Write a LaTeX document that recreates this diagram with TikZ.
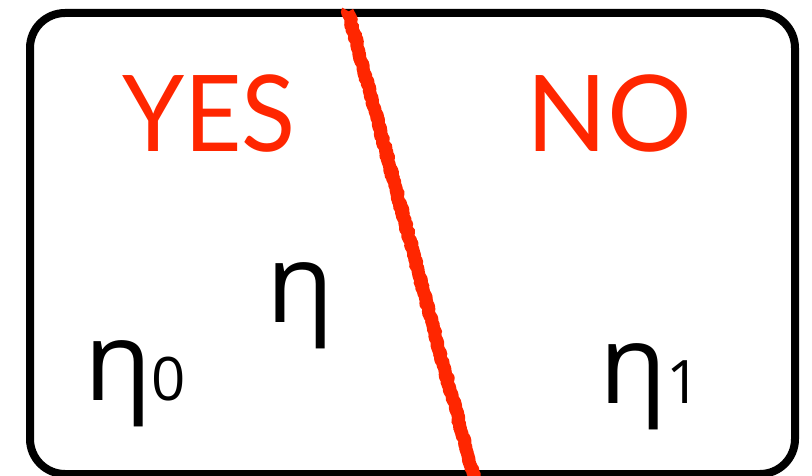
\documentclass[tikz,border=0pt]{standalone}
\usepackage{fontspec}
\setmainfont{Lato}
\newfontfamily\greekfont{Open Sans}
\usetikzlibrary{decorations.pathmorphing}
\definecolor{cutred}{RGB}{255,38,0}
\newcommand\idx[1]{{\fontsize{60}{62}\selectfont #1}}

\begin{document}
\begin{tikzpicture}[x=1pt, y=-1pt,
    frame/.style={draw, line width=8pt, rounded corners=35pt},
    answer/.style={text=cutred, inner sep=0pt, anchor=base, font=\fontsize{106}{110}\selectfont},
    symbol/.style={inner sep=0pt, anchor=base west, font=\greekfont\fontsize{110}{115}\selectfont},
    cut/.style={draw=cutred, line width=13pt, line join=round, decorate, decoration={random steps, segment length=2pt, amplitude=1.2pt}}]
    \useasboundingbox (0,0) rectangle (812,476);
    \draw [frame] (30,13) rectangle (795,474);
    \node [answer, xscale=0.94] (yes) at (209,152) {YES};
    \node [answer] (no) at (609,152) {NO};
    \node [symbol] (eta) at (266,322) {η};
    \node [symbol] (eta0) at (84,400) {η\idx{0}};
    \node [symbol] (eta1) at (599,403) {η\idx{1}};
    \coordinate (cuttop) at (348,11);
    \coordinate (cutbot) at (474,478);
    \draw [cut] (cuttop) -- (cutbot);
\end{tikzpicture}
\end{document}
